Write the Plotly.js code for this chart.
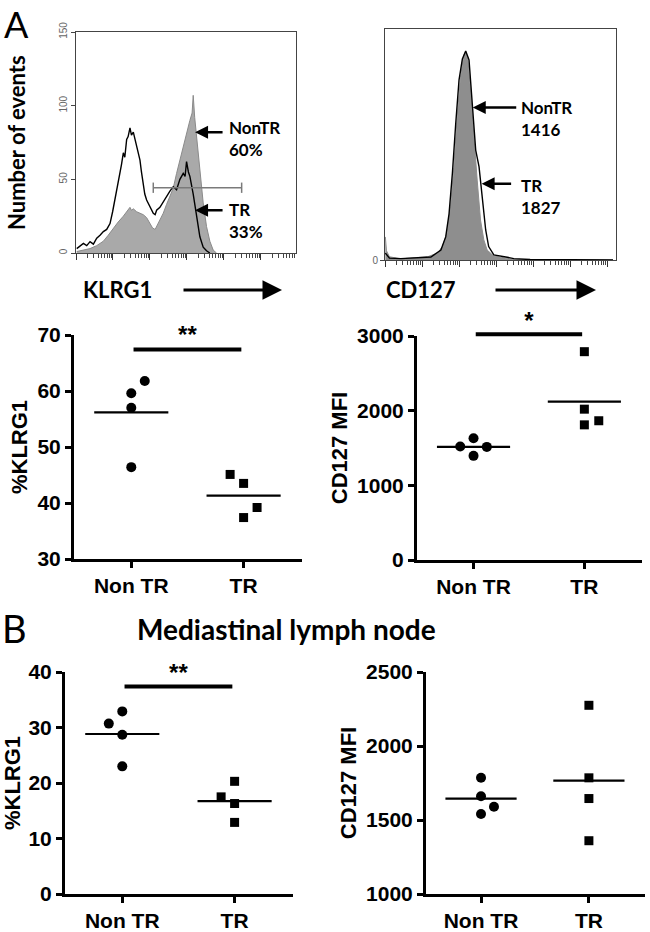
<!DOCTYPE html>
<html><head><meta charset="utf-8">
<script src="https://cdn.plot.ly/plotly-3.0.1.min.js"></script>
<style>html,body{margin:0;padding:0;background:#fff}#chart{width:650px;height:932px}</style>
</head><body><div id="chart"></div>
<script>
// ---------------- data ----------------
const groups = ['Non TR', 'TR'];

// Panel A histograms (x = log10 fluorescence, y = number of events)
const klrg1TRLog = [0.02,0.11,0.20,0.29,0.38,0.47,0.56,0.65,0.74,0.83,0.92,0.99,1.05,1.13,1.19,1.23,1.28,1.32,1.37,1.41,1.46,1.50,1.55,1.59,1.64,1.68,1.73,1.77,1.82,1.86,1.91,2.00,2.09,2.14,2.18,2.27,2.36,2.45,2.54,2.63,2.72,2.81,2.90,2.95,2.99,3.04,3.08,3.17,3.26,3.35,3.44,3.53,3.62];
const klrg1TRCount = [3,5,6.5,5,7.7,6,10,12,14.5,16,20,28,36,45,54,60,68,65,77,79,85,80,82,78,74,68,63,55,45,40,36,31,27,26,29,31,35,38,42,45,43,50,54,52,62,55,52,40,25,11,4,1.5,0];
const klrg1NonTRLog = [0.02,0.20,0.38,0.56,0.74,0.87,1.01,1.14,1.28,1.37,1.46,1.50,1.55,1.64,1.73,1.82,1.91,2.00,2.07,2.14,2.20,2.27,2.36,2.45,2.54,2.63,2.72,2.81,2.90,2.99,3.08,3.14,3.17,3.21,3.26,3.35,3.44,3.53,3.62,3.71,3.80];
const klrg1NonTRCount = [1,2,3,5,8,12,17,21,25,28,31,29,30,28,27,26,24,20,17,16,19,23,27,33,38,44,54,63,72,83,90,95,107,92,80,57,34,18,8,2,0];
const klrg1GateLog = [2.09, 4.48];
const klrg1GateLevel = 44.3;

const cd127NonTRLog = [0.01,0.04,0.12,0.43,0.79,1.15,1.42,1.55,1.68,1.77,1.86,1.95,2.04,2.13,2.18,2.24,2.31,2.40,2.49,2.58,2.67,2.76,2.94,3.30,3.48,3.92,6.16];
const cd127NonTRCount = [10,4,1.4,0.5,1,1.4,3,5.8,12,23,40,62,79,88.7,90.2,86.6,73.5,52,34.6,17.3,8.7,4.3,1.7,0.7,0.3,0.1,0];
const cd127TRLog = [0.01,0.12,0.43,0.79,1.24,1.51,1.64,1.73,1.82,1.91,2.00,2.09,2.18,2.27,2.36,2.45,2.54,2.63,2.72,2.80,2.94,3.30,3.48,3.92,6.16];
const cd127TRCount = [3,0.8,0.6,0.8,1.3,4.3,10,20,37.5,59,78,87,90.5,86.6,66,47.6,40.4,26,13,5.8,2.2,1.2,0.6,0.2,0];

// Panel A scatter values
const aKlrg1NonTR = [61.8, 59.6, 57.0, 46.4];
const aKlrg1TR = [45.1, 43.5, 39.2, 37.4];
const aCd127NonTR = [1520, 1630, 1515, 1395];
const aCd127TR = [2790, 2020, 1810, 1865];
// Panel B (mediastinal lymph node)
const bKlrg1NonTR = [32.9, 30.7, 28.7, 23.0];
const bKlrg1TR = [20.3, 17.5, 16.3, 12.9];
const bCd127NonTR = [1785, 1660, 1590, 1540];
const bCd127TR = [2275, 1785, 1645, 1360];

// horizontal jitter of points (category units)
const aKlrg1NonTRJit = [0.12, 0, 0, 0];
const aKlrg1TRJit = [-0.12, 0, 0.12, 0];
const aCd127NonTRJit = [-0.12, 0, 0.12, 0];
const aCd127TRJit = [0, 0, 0, 0.13];
const bKlrg1NonTRJit = [0, -0.12, 0, 0];
const bKlrg1TRJit = [0, -0.12, 0, 0];
const bCd127NonTRJit = [0, 0, 0.12, 0];
const bCd127TRJit = [0, 0, 0, 0];

// significance
const sigLabels = ['**', '*', '**'];
const sigBarLevel = [67.4, 3022, 37.4];
const sigStarLevel = [69.6, 3175, 39.5];

// ---------------- layout helpers ----------------
const W = 650, H = 932;
const fx = p => p / W;
const fy = p => 1 - p / H;
const pow10 = a => a.map(v => Math.pow(10, v));
const mean = a => a.reduce((s, v) => s + v, 0) / a.length;

const ARIAL = 'Arial, Liberation Sans, sans-serif';
const LATO = 'Lato, Open Sans, sans-serif';

const traces = [];

// Histogram 1 (KLRG1)
traces.push({x: pow10(klrg1NonTRLog), y: klrg1NonTRCount, xaxis: 'x', yaxis: 'y', mode: 'lines', fill: 'tozeroy',
  fillcolor: '#a9a9a9', line: {color: '#8a8a8a', width: 1}, hoverinfo: 'skip'});
traces.push({x: pow10(klrg1TRLog), y: klrg1TRCount, xaxis: 'x', yaxis: 'y', mode: 'lines',
  line: {color: '#000', width: 1.4}, hoverinfo: 'skip'});
traces.push({x: pow10(klrg1GateLog), y: klrg1GateLog.map(() => klrg1GateLevel), xaxis: 'x', yaxis: 'y', mode: 'lines',
  line: {color: '#7a7a7a', width: 1.5},
  error_y: {type: 'constant', value: 3.5, width: 0, thickness: 1.5, color: '#7a7a7a'}, hoverinfo: 'skip'});

// Histogram 2 (CD127)
traces.push({x: pow10(cd127NonTRLog), y: cd127NonTRCount, xaxis: 'x2', yaxis: 'y2', mode: 'lines', fill: 'tozeroy',
  fillcolor: '#8e8e8e', line: {color: '#8e8e8e', width: 1}, hoverinfo: 'skip'});
traces.push({x: pow10(cd127TRLog), y: cd127TRCount, xaxis: 'x2', yaxis: 'y2', mode: 'lines',
  line: {color: '#000', width: 1.4}, hoverinfo: 'skip'});

// scatter panels
function dotPanel(ax, ay, nonTR, nonJit, tr, trJit) {
  traces.push({x: nonJit.map(j => 1 + j), y: nonTR, xaxis: ax, yaxis: ay, mode: 'markers', cliponaxis: false,
    marker: {symbol: 'circle', size: 10, color: '#000'}});
  traces.push({x: trJit.map(j => 2 + j), y: tr, xaxis: ax, yaxis: ay, mode: 'markers', cliponaxis: false,
    marker: {symbol: 'square', size: 9, color: '#000'}});
  [[1, nonTR], [2, tr]].forEach(([c, vals]) => {
    const m = mean(vals);
    traces.push({x: [c - 0.33, c + 0.33], y: [m, m], xaxis: ax, yaxis: ay, mode: 'lines',
      line: {color: '#000', width: 2.2}, hoverinfo: 'skip'});
  });
}
dotPanel('x3', 'y3', aKlrg1NonTR, aKlrg1NonTRJit, aKlrg1TR, aKlrg1TRJit);
dotPanel('x4', 'y4', aCd127NonTR, aCd127NonTRJit, aCd127TR, aCd127TRJit);
dotPanel('x5', 'y5', bKlrg1NonTR, bKlrg1NonTRJit, bKlrg1TR, bKlrg1TRJit);
dotPanel('x6', 'y6', bCd127NonTR, bCd127NonTRJit, bCd127TR, bCd127TRJit);

// significance bars in companion (invisible, extended) axes
[['x7', 'y7'], ['x8', 'y8'], ['x9', 'y9']].forEach(([ax, ay], i) => {
  traces.push({x: [1.02, 1.98], y: [sigBarLevel[i], sigBarLevel[i]], xaxis: ax, yaxis: ay, mode: 'lines',
    line: {color: '#000', width: 4}, hoverinfo: 'skip'});
  traces.push({x: [1.5], y: [sigStarLevel[i]], xaxis: ax, yaxis: ay, mode: 'text', text: [sigLabels[i]],
    textposition: 'middle center', cliponaxis: false,
    textfont: {family: ARIAL, size: 24, color: '#000', weight: 700}, hoverinfo: 'skip'});
});

// ---------------- axes ----------------
const layout = {
  width: W, height: H, margin: {l: 0, r: 0, t: 0, b: 0},
  paper_bgcolor: '#fff', plot_bgcolor: 'rgba(0,0,0,0)', showlegend: false,
  annotations: []
};

function histX(pxL, pxR, anchor, decades) {
  return {domain: [fx(pxL), fx(pxR)], anchor, type: 'log', range: [0, decades], dtick: 1,
    ticks: 'outside', ticklen: 6, tickwidth: 1, tickcolor: '#333', showticklabels: false,
    minor: {ticks: 'outside', ticklen: 4, tickwidth: 1, tickcolor: '#444', dtick: 'D1'},
    showline: true, mirror: true, linecolor: '#444', linewidth: 1, showgrid: false, zeroline: false, fixedrange: true};
}
function histY(pyT, pyB, anchor, range, vals) {
  return {domain: [fy(pyB), fy(pyT)], anchor, range, tickvals: vals, ticktext: vals.map(String),
    ticks: 'outside', ticklen: 4, tickwidth: 1, tickcolor: '#444', tickangle: -90,
    tickfont: {family: ARIAL, size: 10, color: '#666'},
    showline: true, mirror: true, linecolor: '#444', linewidth: 1, showgrid: false, zeroline: false, fixedrange: true};
}
layout.xaxis = histX(76, 296, 'y', 5.95);
layout.yaxis = histY(32, 253, 'x', [0, 150], [0, 50, 100, 150]);
layout.xaxis2 = histX(385, 616, 'y2', 6.24);
layout.yaxis2 = histY(29, 260, 'x2', [0, 100], [0]);
layout.yaxis2.tickangle = 0;

const tickF = {family: ARIAL, size: 21, color: '#000', weight: 700};
function dotX(pxL, pxR, anchor) {
  return {domain: [fx(pxL), fx(pxR)], anchor, range: [0.49, 2.52], tickvals: [1, 2], ticktext: groups,
    ticks: 'outside', ticklen: 6, tickwidth: 3, tickcolor: '#000', tickfont: tickF,
    showline: true, linewidth: 3, linecolor: '#000', showgrid: false, zeroline: false, fixedrange: true};
}
function dotY(pyT, pyB, anchor, range, vals, title) {
  return {domain: [fy(pyB), fy(pyT)], anchor, range, tickvals: vals, ticktext: vals.map(String),
    ticks: 'outside', ticklen: 6, tickwidth: 3, tickcolor: '#000', tickfont: tickF,
    title: {text: title, font: {family: ARIAL, size: 22, color: '#000', weight: 700}, standoff: 4},
    showline: true, linewidth: 3, linecolor: '#000', showgrid: false, zeroline: false, fixedrange: true};
}
const P = {
  aL: {xl: 74, xr: 302, yt: 335, yb: 559, r: [30, 70], v: [30, 40, 50, 60, 70], t: '%KLRG1'},
  aR: {xl: 417, xr: 642, yt: 336, yb: 560, r: [0, 3000], v: [0, 1000, 2000, 3000], t: 'CD127 MFI'},
  bL: {xl: 65, xr: 293, yt: 672, yb: 894, r: [0, 40], v: [0, 10, 20, 30, 40], t: '%KLRG1'},
  bR: {xl: 426, xr: 645, yt: 672, yb: 894, r: [1000, 2500], v: [1000, 1500, 2000, 2500], t: 'CD127 MFI'}
};
[['aL', 3], ['aR', 4], ['bL', 5], ['bR', 6]].forEach(([k, n]) => {
  const p = P[k];
  layout['xaxis' + n] = dotX(p.xl, p.xr, 'y' + n);
  layout['yaxis' + n] = dotY(p.yt, p.yb, 'x' + n, p.r, p.v, p.t);
});
// companions for significance marks (same scale, extended upward)
const EXTRA = 45;
[['aL', 7], ['aR', 8], ['bL', 9]].forEach(([k, n]) => {
  const p = P[k];
  const k2 = (p.r[1] - p.r[0]) / (p.yb - p.yt);
  layout['xaxis' + n] = {domain: [fx(p.xl), fx(p.xr)], anchor: 'y' + n, range: [0.49, 2.52], visible: false, fixedrange: true};
  layout['yaxis' + n] = {domain: [fy(p.yb), fy(p.yt - EXTRA)], anchor: 'x' + n, range: [p.r[0], p.r[1] + EXTRA * k2], visible: false, fixedrange: true};
});

// ---------------- annotations ----------------
const A = layout.annotations;
const lab = (text, x, y, size, opts = {}) => A.push(Object.assign({text, x: fx(x), y: fy(y), xref: 'paper', yref: 'paper',
  showarrow: false, xanchor: 'left', yanchor: 'middle', align: 'left',
  font: {family: LATO, size, color: '#000', weight: 700}}, opts));

lab('A', 2, 0, 36, {yanchor: 'top', font: {family: LATO, size: 36, color: '#000', weight: 400}});
lab('B', 0, 628, 38, {font: {family: LATO, size: 38, color: '#000', weight: 400}});
lab('Number of events', 17, 143, 22, {textangle: -90, xanchor: 'center'});
lab('KLRG1', 81, 290, 22);
lab('CD127', 384, 290, 22);
lab('Mediastinal lymph node', 286, 629, 28, {xanchor: 'center'});

// long axis arrows
[[182, 282], [494, 596]].forEach(([x0, x1]) => A.push({x: fx(x1), y: fy(290), xref: 'paper', yref: 'paper', text: '',
  showarrow: true, ax: -(x1 - x0), ay: 0, arrowhead: 2, arrowsize: 1.3, arrowwidth: 3, arrowcolor: '#000'}));

// histogram label arrows (head at data point, tail offset in px)
const arr = (xa, ya, xd, yd, len) => A.push({x: xd, y: yd, xref: xa, yref: ya, text: '',
  showarrow: true, ax: len, ay: 0, arrowhead: 2, arrowsize: 1, arrowwidth: 2.6, arrowcolor: '#000'});
arr('x', 'y', 3.22, 82, 29);
arr('x', 'y', 3.22, 29, 29);
arr('x2', 'y2', 2.37, 66, 45);
arr('x2', 'y2', 2.61, 33, 31);

lab('NonTR<br>60%', 227, 139, 17);
lab('TR<br>33%', 227, 220, 17);
lab('NonTR<br>1416', 519, 118, 17);
lab('TR<br>1827', 519, 196, 17);

Plotly.newPlot('chart', traces, layout, {staticPlot: true});
</script>
</body></html>
